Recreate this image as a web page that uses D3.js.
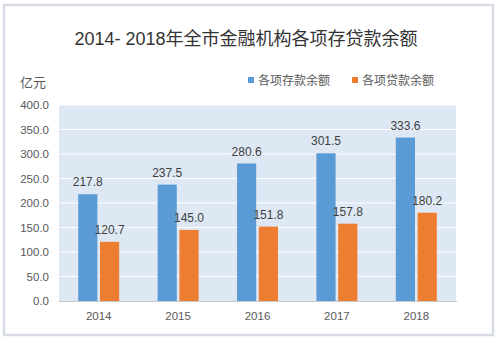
<!DOCTYPE html>
<html><head><meta charset="utf-8">
<script src="https://cdn.jsdelivr.net/npm/d3@7"></script>
<style>html,body{margin:0;padding:0;background:#fff;}svg{display:block;}</style>
</head><body>
<svg id="c" width="500" height="341"></svg>
<script>
const categories = ["2014","2015","2016","2017","2018"];
const deposits = [217.8, 237.5, 280.6, 301.5, 333.6];
const loans = [120.7, 145.0, 151.8, 157.8, 180.2];
const seriesNames = ["各项存款余额","各项贷款余额"];
const yTicks = [0,50,100,150,200,250,300,350,400];
const title = "2014- 2018年全市金融机构各项存贷款余额";
const unit = "亿元";

const colors = ["#5b9bd5","#ed7d31"];
const font = "'Liberation Sans','Noto Sans CJK SC',sans-serif";
const svg = d3.select("#c");
svg.append("rect").attr("x",4).attr("y",5).attr("width",489).attr("height",330)
  .attr("fill","#fff").attr("stroke","#d6dbe4").attr("stroke-width",2.5);

const m = {l:59, r:456, t:105, b:301};
const x = d3.scaleBand().domain(categories).range([m.l,m.r]);
const y = d3.scaleLinear().domain([0,400]).range([m.b,m.t]);

svg.append("rect").attr("x",m.l).attr("y",m.t).attr("width",m.r-m.l).attr("height",m.b-m.t).attr("fill","#dde8f4");
svg.append("g").selectAll("line").data(yTicks.slice(1)).join("line")
  .attr("x1",m.l).attr("x2",m.r).attr("y1",d=>y(d)).attr("y2",d=>y(d))
  .attr("stroke","#fff").attr("stroke-width",1);

const inner = d3.scaleBand().domain([0,1]).range([0, 41]).paddingInner(0.12);
const series = [deposits, loans];
series.forEach((vals,si)=>{
  const g = svg.append("g");
  g.selectAll("rect").data(vals).join("rect")
    .attr("x",(d,i)=>x(categories[i]) + x.bandwidth()/2 - 20.5 + inner(si))
    .attr("width",inner.bandwidth())
    .attr("y",d=>y(d)).attr("height",d=>y(0)-y(d)).attr("fill",colors[si]);
  g.selectAll("text").data(vals).join("text")
    .attr("x",(d,i)=>x(categories[i]) + x.bandwidth()/2 - 20.5 + inner(si) + inner.bandwidth()/2)
    .attr("y",d=>y(d)-8).attr("text-anchor","middle")
    .attr("font-family",font).attr("font-size",12).attr("fill","#404040")
    .text(d=>d.toFixed(1));
});

// baseline
svg.append("line").attr("x1",m.l).attr("x2",m.r+1).attr("y1",m.b+0.5).attr("y2",m.b+0.5)
  .attr("stroke","#c8c8c8").attr("stroke-width",1);

// y axis labels
const yAxis = d3.axisLeft(y).tickValues(yTicks).tickFormat(d=>d.toFixed(1)).tickSize(0).tickPadding(10);
const ya = svg.append("g").attr("transform",`translate(${m.l},0)`).call(yAxis);
ya.select(".domain").remove();
ya.selectAll("text").attr("font-family",font).attr("font-size",11.5).attr("fill","#595959");

const xAxis = d3.axisBottom(x).tickSize(0).tickPadding(11);
const xa = svg.append("g").attr("transform",`translate(0,${m.b})`).call(xAxis);
xa.select(".domain").remove();
xa.selectAll("text").attr("font-family",font).attr("font-size",11.5).attr("fill","#595959");

svg.append("text").attr("x",246).attr("y",45).attr("text-anchor","middle")
  .attr("font-family",font).attr("font-size",18).attr("fill","#333").text(title);
svg.append("text").attr("x",20).attr("y",87)
  .attr("font-family",font).attr("font-size",13).attr("fill","#595959").text(unit);

const lx = [248, 352];
seriesNames.forEach((n,i)=>{
  svg.append("rect").attr("x",lx[i]).attr("y",77).attr("width",6).attr("height",6).attr("fill",colors[i]);
  svg.append("text").attr("x",lx[i]+10).attr("y",84.5)
    .attr("font-family",font).attr("font-size",12).attr("fill","#595959").text(n);
});
</script>
</body></html>
